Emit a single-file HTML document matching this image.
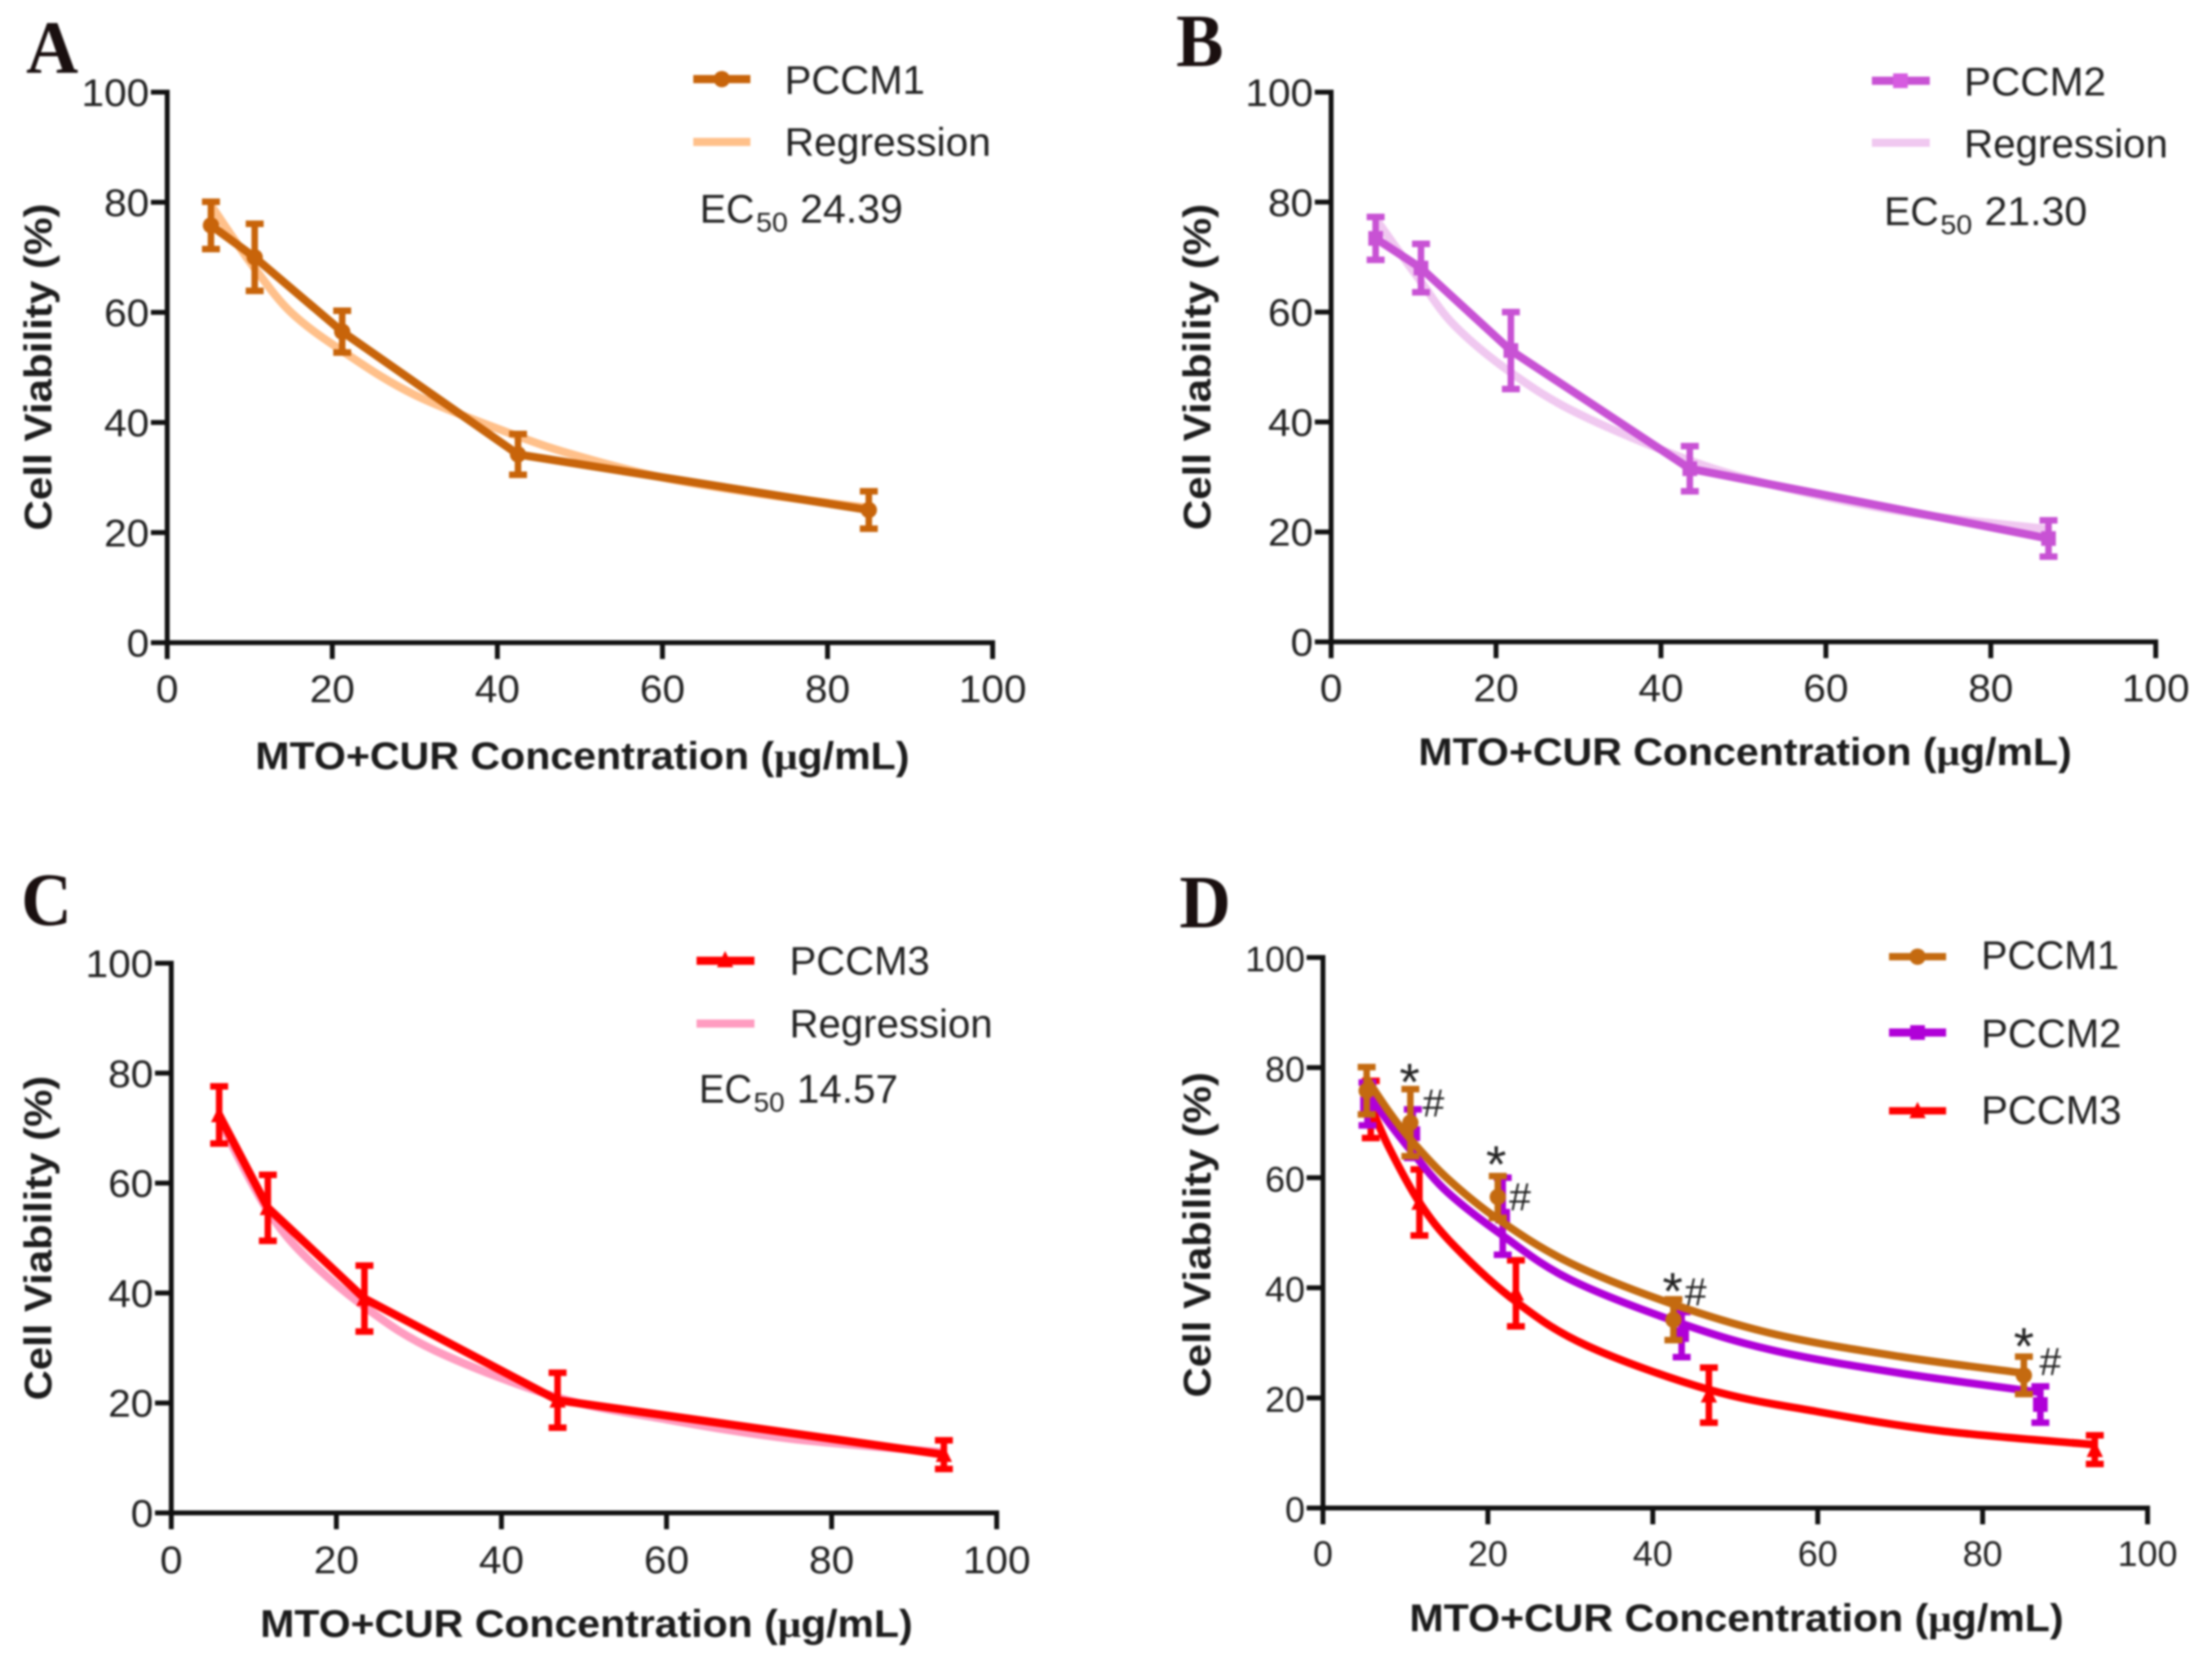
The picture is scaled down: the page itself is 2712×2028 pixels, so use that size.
<!DOCTYPE html>
<html lang="en">
<head>
<meta charset="utf-8">
<title>Cell viability of PCCM1, PCCM2 and PCCM3</title>
<style>
html,body{margin:0;padding:0;background:#fff;}
body{width:2712px;height:2028px;overflow:hidden;}
#figure{display:block;width:2712px;height:2028px;filter:blur(1.2px);}
text{font-family:"Liberation Sans",sans-serif;fill:#222;}
.title{font-weight:700;font-size:47px;fill:#1c1c1c;}
.legend{font-size:49px;}
.letter{font-family:"Liberation Serif",serif;font-weight:700;font-size:92px;fill:#1a1010;}
.mu{font-family:"Liberation Serif",serif;}
</style>
</head>
<body>
<svg id="figure" xmlns="http://www.w3.org/2000/svg" width="2712" height="2028" viewBox="0 0 2712 2028">
  <rect width="2712" height="2028" fill="#fff"/>

  <!-- Panel A -->
  <g id="panel-a">
    <text class="letter" x="32" y="89" textLength="64" lengthAdjust="spacingAndGlyphs">A</text>
    <text class="title" x="313" y="943" textLength="802" lengthAdjust="spacingAndGlyphs">MTO+CUR Concentration (<tspan class="mu">μ</tspan>g/mL)</text>
    <text class="title" transform="translate(63,450) rotate(-90)" text-anchor="middle" textLength="401" lengthAdjust="spacingAndGlyphs">Cell Viability (%)</text>
    <g>
      <line x1="850" x2="920" y1="97" y2="97" stroke="#C8640A" stroke-width="10"/>
      <circle cx="885" cy="97" r="10" fill="#C8640A"/>
      <text class="legend" x="962" y="115" textLength="172" lengthAdjust="spacingAndGlyphs">PCCM1</text>
      <line x1="850" x2="920" y1="174" y2="174" stroke="#FFC08A" stroke-width="10"/>
      <text class="legend" x="962" y="191" textLength="253" lengthAdjust="spacingAndGlyphs">Regression</text>
      <g transform="translate(858,273)">
        <text class="legend" x="0" y="0" textLength="67" lengthAdjust="spacingAndGlyphs">EC</text>
        <text x="69" y="11" font-size="33" textLength="39" lengthAdjust="spacingAndGlyphs">50</text>
        <text class="legend" x="123" y="0" textLength="126" lengthAdjust="spacingAndGlyphs">24.39</text>
      </g>
    </g>
  </g>

  <!-- Panel B -->
  <g id="panel-b">
    <text class="letter" x="1442" y="81" textLength="58" lengthAdjust="spacingAndGlyphs">B</text>
    <text class="title" x="1739" y="938" textLength="801" lengthAdjust="spacingAndGlyphs">MTO+CUR Concentration (<tspan class="mu">μ</tspan>g/mL)</text>
    <text class="title" transform="translate(1484,450) rotate(-90)" text-anchor="middle" textLength="400" lengthAdjust="spacingAndGlyphs">Cell Viability (%)</text>
    <g>
      <line x1="2295" x2="2366" y1="99" y2="99" stroke="#C852D4" stroke-width="10"/>
      <rect x="2321" y="90" width="18" height="18" fill="#D65BE0"/>
      <text class="legend" x="2408" y="117" textLength="174" lengthAdjust="spacingAndGlyphs">PCCM2</text>
      <line x1="2295" x2="2366" y1="175" y2="175" stroke="#F0C8F0" stroke-width="10"/>
      <text class="legend" x="2408" y="193" textLength="250" lengthAdjust="spacingAndGlyphs">Regression</text>
      <g transform="translate(2310,276)">
        <text class="legend" x="0" y="0" textLength="67" lengthAdjust="spacingAndGlyphs">EC</text>
        <text x="69" y="11" font-size="33" textLength="39" lengthAdjust="spacingAndGlyphs">50</text>
        <text class="legend" x="123" y="0" textLength="126" lengthAdjust="spacingAndGlyphs">21.30</text>
      </g>
    </g>
  </g>

  <!-- Panel C -->
  <g id="panel-c">
    <text class="letter" x="26" y="1134" textLength="62" lengthAdjust="spacingAndGlyphs">C</text>
    <text class="title" x="319" y="2007" textLength="800" lengthAdjust="spacingAndGlyphs">MTO+CUR Concentration (<tspan class="mu">μ</tspan>g/mL)</text>
    <text class="title" transform="translate(63,1518) rotate(-90)" text-anchor="middle" textLength="398" lengthAdjust="spacingAndGlyphs">Cell Viability (%)</text>
    <g>
      <line x1="854" x2="925" y1="1178" y2="1178" stroke="#FF0000" stroke-width="10"/>
      <polygon points="889,1166 899,1186 879,1186" fill="#FF0000"/>
      <text class="legend" x="968" y="1195" textLength="172" lengthAdjust="spacingAndGlyphs">PCCM3</text>
      <line x1="854" x2="925" y1="1255" y2="1255" stroke="#FF9CC0" stroke-width="10"/>
      <text class="legend" x="968" y="1272" textLength="249" lengthAdjust="spacingAndGlyphs">Regression</text>
      <g transform="translate(857,1352)">
        <text class="legend" x="0" y="0" textLength="65" lengthAdjust="spacingAndGlyphs">EC</text>
        <text x="67" y="11" font-size="33" textLength="38" lengthAdjust="spacingAndGlyphs">50</text>
        <text class="legend" x="120" y="0" textLength="124" lengthAdjust="spacingAndGlyphs">14.57</text>
      </g>
    </g>
  </g>

  <!-- Panel D -->
  <g id="panel-d">
    <text class="letter" x="1446" y="1137" textLength="63" lengthAdjust="spacingAndGlyphs">D</text>
    <text class="title" x="1728" y="2000" textLength="802" lengthAdjust="spacingAndGlyphs">MTO+CUR Concentration (<tspan class="mu">μ</tspan>g/mL)</text>
    <text class="title" transform="translate(1484,1514) rotate(-90)" text-anchor="middle" textLength="399" lengthAdjust="spacingAndGlyphs">Cell Viability (%)</text>
    <g>
      <line x1="2316" x2="2386" y1="1173" y2="1173" stroke="#C46A10" stroke-width="9"/>
      <circle cx="2351" cy="1173" r="10" fill="#C46A10"/>
      <text class="legend" x="2429" y="1188" textLength="169" lengthAdjust="spacingAndGlyphs">PCCM1</text>
      <line x1="2316" x2="2386" y1="1266" y2="1266" stroke="#B000D8" stroke-width="10"/>
      <rect x="2342" y="1257" width="18" height="18" fill="#B000D8"/>
      <text class="legend" x="2429" y="1284" textLength="172" lengthAdjust="spacingAndGlyphs">PCCM2</text>
      <line x1="2316" x2="2386" y1="1362" y2="1362" stroke="#FF0000" stroke-width="9"/>
      <polygon points="2351,1351 2361,1371 2341,1371" fill="#FF0000"/>
      <text class="legend" x="2429" y="1378" textLength="172" lengthAdjust="spacingAndGlyphs">PCCM3</text>
    </g>
  </g>
</svg>

<script>
// Shared axis ticks
const xTickValues = [0, 20, 40, 60, 80, 100];
const yTickValues = [0, 20, 40, 60, 80, 100];

// PCCM1 measurements
const pccm1Conc = [5.3, 10.6, 21.2, 42.5, 85];
const pccm1Viability = [75.8, 70, 56.5, 34.2, 24.1];
const pccm1Error = [4.3, 6.1, 3.8, 3.7, 3.4];
const pccm1RegConc = [5.3, 8, 10.6, 15, 21.2, 30, 42.5, 50, 60, 72, 85];
const pccm1RegViability = [79.5, 73.5, 68, 60, 53, 45, 37.5, 33.8, 30, 27, 24.5];

// PCCM2 measurements
const pccm2Conc = [5.4, 10.9, 21.8, 43.5, 87];
const pccm2Viability = [73.4, 68, 53, 31.5, 18.8];
const pccm2Error = [3.9, 4.4, 7, 4.1, 3.3];
const pccm2RegConc = [5.4, 8, 10.9, 15, 21.8, 30, 43.5, 55, 70, 87];
const pccm2RegViability = [77, 71.5, 65.5, 57.5, 49, 41.5, 33, 28, 23.5, 20.5];

// PCCM3 measurements
const pccm3Conc = [5.8, 11.7, 23.4, 46.8, 93.6];
const pccm3Viability = [72.4, 55.5, 39, 20.5, 10.6];
const pccm3Error = [5.2, 6, 6, 5, 2.6];
const pccm3RegConc = [5.8, 8, 11.7, 16, 23.4, 32, 46.8, 60, 75, 93.6];
const pccm3RegViability = [72, 65, 55, 47, 37.5, 29.5, 21, 17, 13.5, 11];

// Panel D fitted curves
const fit1Conc = [5.3, 8, 10.6, 15, 21.2, 30, 42.5, 55, 70, 85];
const fit1Viability = [78, 72, 67, 60, 52.5, 44.5, 37, 31.5, 27.5, 24.5];
const fit2Conc = [5.4, 8, 10.9, 15, 21.8, 30, 43.5, 55, 70, 87];
const fit2Viability = [75.5, 70, 64.5, 57.5, 49.5, 41.5, 33.5, 28.5, 24.5, 21];
const fit3Conc = [5.8, 8, 11.7, 16, 23.4, 32, 46.8, 60, 75, 93.6];
const fit3Viability = [73, 65.5, 55.5, 47.5, 37.5, 29.5, 21.5, 17.5, 14, 11.5];

// Panel D significance marks
const starConc = [10.5, 21, 42.4, 85];
const starViability = [79.5, 64.5, 41.5, 31.5];
const hashConc = [13.4, 23.9, 45.2, 88.2];
const hashViability = [73.6, 56.6, 39.3, 26.7];

const SVG_NS = 'http://www.w3.org/2000/svg';

function makeScale(v0, v100) {
  return function (v) { return v0 + (v100 - v0) * v / 100; };
}

function svgEl(tag, attrs, parent) {
  const el = document.createElementNS(SVG_NS, tag);
  Object.keys(attrs).forEach(function (k) { el.setAttribute(k, attrs[k]); });
  parent.appendChild(el);
  return el;
}

function curvePath(xs, ys, sx, sy) {
  const p = xs.map(function (x, i) { return [sx(x), sy(ys[i])]; });
  let d = 'M' + p[0][0] + ' ' + p[0][1];
  for (let i = 0; i < p.length - 1; i++) {
    const a = p[Math.max(i - 1, 0)], b = p[i], c = p[i + 1], e = p[Math.min(i + 2, p.length - 1)];
    d += ' C' + (b[0] + (c[0] - a[0]) / 6) + ' ' + (b[1] + (c[1] - a[1]) / 6) + ' ' +
      (c[0] - (e[0] - b[0]) / 6) + ' ' + (c[1] - (e[1] - b[1]) / 6) + ' ' + c[0] + ' ' + c[1];
  }
  return d;
}

function linePath(xs, ys, sx, sy) {
  return xs.map(function (x, i) { return (i ? 'L' : 'M') + sx(x) + ' ' + sy(ys[i]); }).join(' ');
}

function drawAxes(parent, sx, sy, fontSize, stretch, labelDrop) {
  const g = svgEl('g', {}, parent);
  
  

  const yAxis = svgEl('line', { x1: sx(0), x2: sx(0), y1: sy(100) - 3, y2: sy(0) + 3, stroke: '#111', 'stroke-width': 6 }, g);
  
  

  const xAxis = svgEl('line', { x1: sx(0) - 3, x2: sx(100) + 3, y1: sy(0), y2: sy(0), stroke: '#111', 'stroke-width': 6 }, g);
  
  

  xTickValues.forEach(function (v) {
    const tick = svgEl('line', { x1: sx(v), x2: sx(v), y1: sy(0), y2: sy(0) + 20, stroke: '#111', 'stroke-width': 6 }, g);
    
    

    const label = svgEl('text', { 'text-anchor': 'middle', 'font-size': fontSize, transform: 'translate(' + sx(v) + ',' + (sy(0) + labelDrop) + ') scale(' + stretch + ',1)' }, g);
    label.textContent = String(v);
    
    
  });

  yTickValues.forEach(function (v) {
    const tick = svgEl('line', { x1: sx(0) - 20, x2: sx(0), y1: sy(v), y2: sy(v), stroke: '#111', 'stroke-width': 6 }, g);
    
    

    const label = svgEl('text', { 'text-anchor': 'end', 'font-size': fontSize, transform: 'translate(' + (sx(0) - 22) + ',' + (sy(v) + 17) + ') scale(' + stretch + ',1)' }, g);
    label.textContent = String(v);
    
    
  });
}

function drawMarker(parent, shape, cx, cy, color) {
  let m;
  if (shape === 'circle') {
    m = svgEl('circle', { cx: cx, cy: cy, r: 10, fill: color }, parent);
  } else if (shape === 'square') {
    m = svgEl('rect', { x: cx - 9, y: cy - 9, width: 18, height: 18, fill: color }, parent);
  } else {
    m = svgEl('polygon', { points: cx + ',' + (cy - 11) + ' ' + (cx + 10) + ',' + (cy + 9) + ' ' + (cx - 10) + ',' + (cy + 9), fill: color }, parent);
  }
  
  
}

function drawPoints(parent, xs, ys, errs, sx, sy, color, shape) {
  xs.forEach(function (x, i) {
    const cx = sx(x);
    const top = sy(ys[i] + errs[i]);
    const bottom = sy(ys[i] - errs[i]);
    const g = svgEl('g', { stroke: color }, parent);
    
    
    svgEl('line', { x1: cx, x2: cx, y1: top, y2: bottom, 'stroke-width': 8 }, g);
    svgEl('line', { x1: cx - 11, x2: cx + 11, y1: top, y2: top, 'stroke-width': 8 }, g);
    svgEl('line', { x1: cx - 11, x2: cx + 11, y1: bottom, y2: bottom, 'stroke-width': 8 }, g);
    drawMarker(parent, shape, cx, sy(ys[i]), color);
  });
}

function drawSeries(parent, xs, ys, errs, regXs, regYs, sx, sy, color, regColor, shape) {
  const reg = svgEl('path', { d: curvePath(regXs, regYs, sx, sy), fill: 'none', stroke: regColor, 'stroke-width': 10 }, parent);
  
  

  const line = svgEl('path', { d: linePath(xs, ys, sx, sy), fill: 'none', stroke: color, 'stroke-width': 10, 'stroke-linejoin': 'round' }, parent);
  
  

  drawPoints(parent, xs, ys, errs, sx, sy, color, shape);
}

function drawFit(parent, xs, ys, errs, fitXs, fitYs, sx, sy, color, shape) {
  const fit = svgEl('path', { d: curvePath(fitXs, fitYs, sx, sy), fill: 'none', stroke: color, 'stroke-width': 9.5 }, parent);
  
  

  drawPoints(parent, xs, ys, errs, sx, sy, color, shape);
}

// Panel A
const ax = makeScale(205, 1217), ay = makeScale(788, 113);
const panelA = document.getElementById('panel-a');
drawAxes(panelA, ax, ay, 47, 1.06, 73);
drawSeries(panelA, pccm1Conc, pccm1Viability, pccm1Error, pccm1RegConc, pccm1RegViability, ax, ay, '#C8640A', '#FFC08A', 'circle');

// Panel B
const bx = makeScale(1632, 2643), by = makeScale(787, 113);
const panelB = document.getElementById('panel-b');
drawAxes(panelB, bx, by, 47, 1.06, 73);
drawSeries(panelB, pccm2Conc, pccm2Viability, pccm2Error, pccm2RegConc, pccm2RegViability, bx, by, '#C852D4', '#F0C8F0', 'square');

// Panel C
const cx_ = makeScale(210, 1222), cy_ = makeScale(1855, 1181);
const panelC = document.getElementById('panel-c');
drawAxes(panelC, cx_, cy_, 47, 1.06, 74);
drawSeries(panelC, pccm3Conc, pccm3Viability, pccm3Error, pccm3RegConc, pccm3RegViability, cx_, cy_, '#FF0000', '#FF9CC0', 'triangle');

// Panel D
const dx = makeScale(1622, 2633), dy = makeScale(1849, 1174);
const panelD = document.getElementById('panel-d');
drawAxes(panelD, dx, dy, 44, 1.0, 71);
drawFit(panelD, pccm3Conc, pccm3Viability, pccm3Error, fit3Conc, fit3Viability, dx, dy, '#FF0000', 'triangle');
drawFit(panelD, pccm2Conc, pccm2Viability, pccm2Error, fit2Conc, fit2Viability, dx, dy, '#B000D8', 'square');
drawFit(panelD, pccm1Conc, pccm1Viability, pccm1Error, fit1Conc, fit1Viability, dx, dy, '#C46A10', 'circle');

starConc.forEach(function (v, i) {
  const star = svgEl('text', { x: dx(v), y: dy(starViability[i]) + 36, 'text-anchor': 'middle', 'font-size': 64, fill: '#111' }, panelD);
  star.textContent = '*';
  
  
});

hashConc.forEach(function (v, i) {
  const hash = svgEl('text', { x: dx(v), y: dy(hashViability[i]) + 17, 'text-anchor': 'middle', 'font-size': 48, fill: '#111' }, panelD);
  hash.textContent = '#';
  
  
});
</script>
</body>
</html>
